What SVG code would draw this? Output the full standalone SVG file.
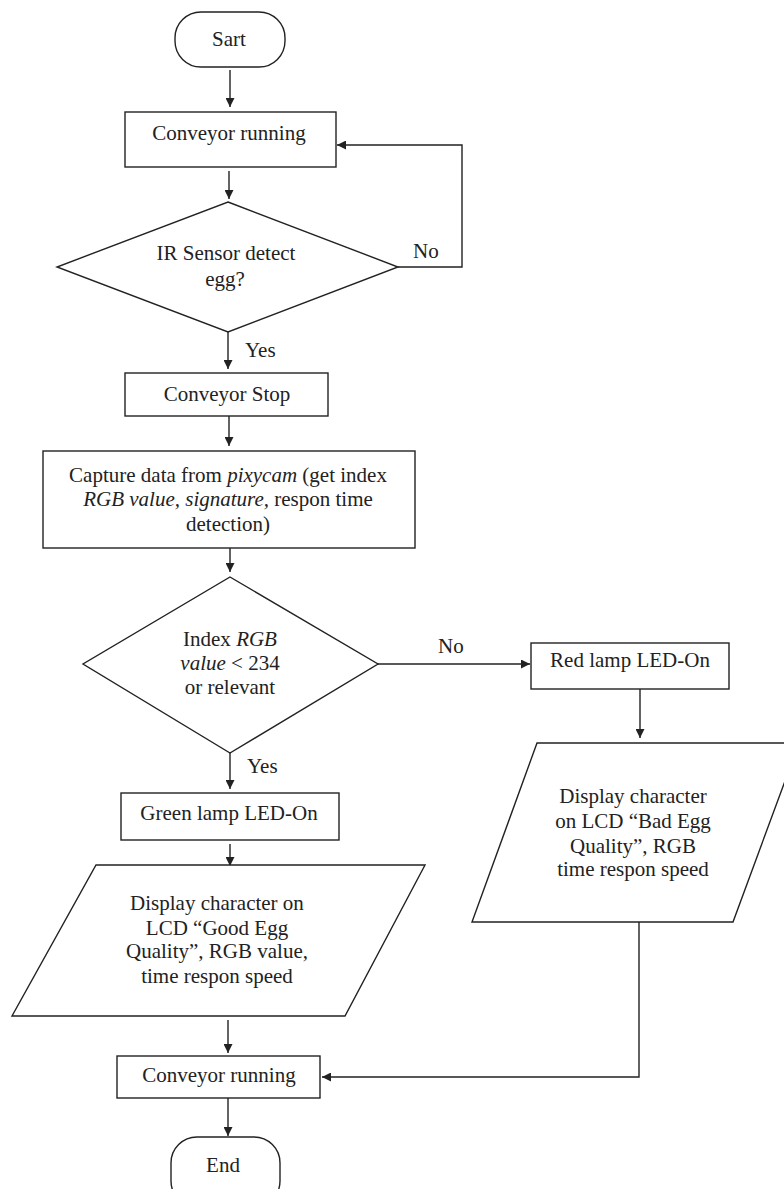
<svg xmlns="http://www.w3.org/2000/svg" width="784" height="1189" viewBox="0 0 784 1189">
<style>
.s{fill:#fff;stroke:#222;stroke-width:1.4}
.c{fill:none;stroke:#222;stroke-width:1.4}
text{font-family:"Liberation Serif","Times New Roman",serif;font-size:21px;fill:#222;text-anchor:middle}
.i{font-style:italic}
.l{text-anchor:start}
</style>
<defs>
<marker id="a" viewBox="0 0 10 10" refX="10" refY="5" markerWidth="9" markerHeight="9" markerUnits="userSpaceOnUse" orient="auto">
<path d="M0,0 L10,5 L0,10 z" fill="#222"/>
</marker>
</defs>
<rect width="784" height="1189" fill="#fff"/>
<g id="connectors">
<line class="c" x1="230" y1="70" x2="230" y2="107" marker-end="url(#a)"/>
<line class="c" x1="229" y1="171" x2="229" y2="199" marker-end="url(#a)"/>
<polyline class="c" points="398,267 462,267 462,145 337,145" marker-end="url(#a)"/>
<line class="c" x1="228" y1="332" x2="228" y2="369" marker-end="url(#a)"/>
<line class="c" x1="229" y1="416" x2="229" y2="446" marker-end="url(#a)"/>
<line class="c" x1="230" y1="548" x2="230" y2="572" marker-end="url(#a)"/>
<line class="c" x1="378" y1="664" x2="530" y2="664" marker-end="url(#a)"/>
<line class="c" x1="230" y1="753" x2="230" y2="789" marker-end="url(#a)"/>
<line class="c" x1="640" y1="689" x2="640" y2="738" marker-end="url(#a)"/>
<line class="c" x1="230" y1="844" x2="230" y2="866" marker-end="url(#a)"/>
<line class="c" x1="228" y1="1020" x2="228" y2="1053" marker-end="url(#a)"/>
<polyline class="c" points="639,922 639,1077 322,1077" marker-end="url(#a)"/>
<line class="c" x1="228" y1="1098" x2="228" y2="1136" marker-end="url(#a)"/>
<text class="l" x="413" y="258">No</text>
<text class="l" x="245" y="357">Yes</text>
<text class="l" x="438" y="653">No</text>
<text class="l" x="247" y="773">Yes</text>
</g>
<g id="start">
<rect class="s" x="175" y="12" width="110" height="55" rx="26" ry="26"/>
<text x="229" y="46">Sart</text>
</g>
<g id="conveyor-running-1">
<rect class="s" x="125" y="112" width="211" height="55"/>
<text x="229" y="140">Conveyor running</text>
</g>
<g id="ir-sensor">
<polygon class="s" points="228,202 398,267 228,332 57,267"/>
<text x="226" y="260">IR Sensor detect</text>
<text x="225" y="286">egg?</text>
</g>
<g id="conveyor-stop">
<rect class="s" x="125" y="373" width="203" height="43"/>
<text x="227" y="401">Conveyor Stop</text>
</g>
<g id="capture">
<rect class="s" x="43" y="451" width="372" height="97"/>
<text x="228" y="482">Capture data from <tspan class="i">pixycam</tspan> (get index</text>
<text x="228" y="506"><tspan class="i">RGB value, signature,</tspan> respon time</text>
<text x="228" y="531">detection)</text>
</g>
<g id="index-rgb">
<polygon class="s" points="230,577 378,664 230,753 83,664"/>
<text x="230" y="646">Index <tspan class="i">RGB</tspan></text>
<text x="230" y="670"><tspan class="i">value</tspan> &lt; 234</text>
<text x="230" y="694">or relevant</text>
</g>
<g id="red-lamp">
<rect class="s" x="531" y="643" width="198" height="46"/>
<text x="630" y="667">Red lamp LED-On</text>
</g>
<g id="display-bad">
<polygon class="s" points="537,743 799,743 733,922 472,922"/>
<text x="633" y="803">Display character</text>
<text x="633" y="828">on LCD “Bad Egg</text>
<text x="633" y="853">Quality”, RGB</text>
<text x="633" y="876">time respon speed</text>
</g>
<g id="green-lamp">
<rect class="s" x="121" y="793" width="218" height="47"/>
<text x="229" y="820">Green lamp LED-On</text>
</g>
<g id="display-good">
<polygon class="s" points="96,865 425,865 345,1016 12,1016"/>
<text x="217" y="910">Display character on</text>
<text x="217" y="935">LCD “Good Egg</text>
<text x="217" y="958">Quality”, RGB value,</text>
<text x="217" y="983">time respon speed</text>
</g>
<g id="conveyor-running-2">
<rect class="s" x="117" y="1056" width="203" height="42"/>
<text x="219" y="1082">Conveyor running</text>
</g>
<g id="end">
<rect class="s" x="171" y="1137" width="109" height="70" rx="26" ry="26"/>
<text x="223" y="1172">End</text>
</g>
</svg>
